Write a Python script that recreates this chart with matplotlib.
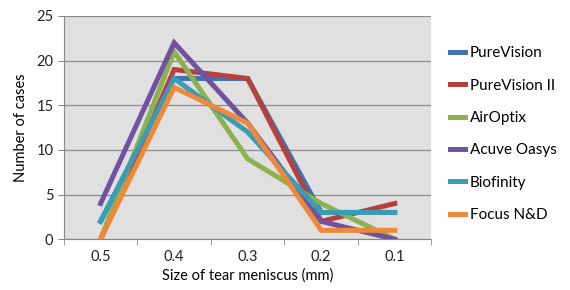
"""Tear meniscus size vs number of cases, per lens type"""
import matplotlib.pyplot as plt
import numpy as np

plt.rcParams["font.family"] = ["Lato", "DejaVu Sans"]

sizes = ["0.5", "0.4", "0.3", "0.2", "0.1"]
purevision = [2, 18, 18, 3, 3]
purevision_ii = [0, 19, 18, 2, 4]
airoptix = [0, 21, 9, 4, 0]
acuve_oasys = [4, 22, 13, 2, 0]
biofinity = [2, 18, 12, 3, 3]
focus_nd = [0, 17, 13, 1, 1]

series = [
    ("PureVision", purevision, "#3F72AF"),
    ("PureVision II", purevision_ii, "#B5403D"),
    ("AirOptix", airoptix, "#8DB14E"),
    ("Acuve Oasys", acuve_oasys, "#6F52A0"),
    ("Biofinity", biofinity, "#3A9DB5"),
    ("Focus N&D", focus_nd, "#F0883A"),
]

fig = plt.figure(figsize=(5.7, 2.9), dpi=100)
ax = fig.add_axes([0.112, 0.175, 0.645, 0.77])
ax.set_facecolor("#E0E0E0")

x = np.arange(len(sizes))
for name, vals, color in series:
    ax.plot(x, vals, color=color, lw=3.6, label=name, solid_joinstyle="miter")

ax.set_xlim(-0.5, len(sizes) - 0.5)
ax.set_ylim(0, 25)
ax.set_yticks(range(0, 26, 5))
ax.set_xticks(x)
ax.set_xticklabels(sizes)
ax.set_xticks(np.arange(-0.5, len(sizes), 1), minor=True)
ax.tick_params(axis="x", which="major", length=0, pad=8)
ax.tick_params(axis="x", which="minor", length=4, color="#888888")
ax.tick_params(axis="y", length=4, color="#888888")
ax.tick_params(labelsize=10.5, labelcolor="#222222")
ax.grid(axis="y", color="#8A8A8A", lw=0.9)
ax.set_axisbelow(True)
for side in ["top", "right"]:
    ax.spines[side].set_visible(False)
for side in ["left", "bottom"]:
    ax.spines[side].set_color("#888888")

ax.set_xlabel("Size of tear meniscus (mm)", fontsize=10.5, labelpad=3)
ax.set_ylabel("Number of cases", fontsize=10.5, labelpad=6)

ax.legend(loc="center left", bbox_to_anchor=(1.0, 0.47), frameon=False,
          fontsize=11, handlelength=1.0, handletextpad=0.3, labelspacing=1.2,
          borderaxespad=0.8)

plt.savefig("out.png", dpi=100)
